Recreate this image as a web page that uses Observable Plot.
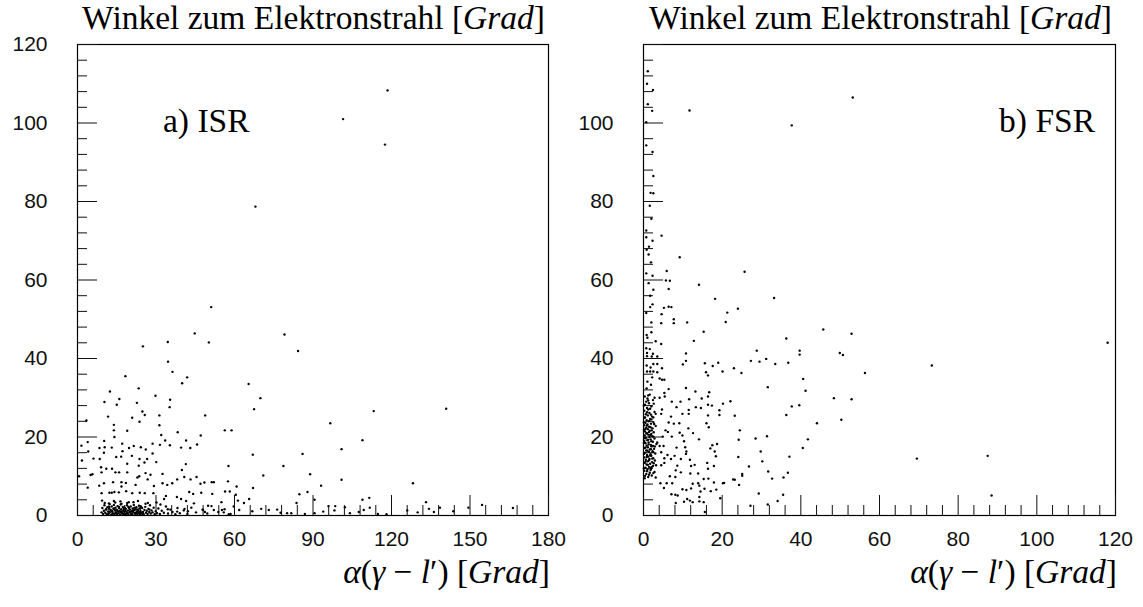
<!DOCTYPE html>
<html><head><meta charset="utf-8">
<script src="https://cdn.jsdelivr.net/npm/d3@7"></script>
<script src="https://cdn.jsdelivr.net/npm/@observablehq/plot@0.6"></script>
<style>
body{margin:0;background:#fff;width:1143px;height:607px;position:relative;overflow:hidden;}
#left{position:absolute;left:0;top:0}
#right{position:absolute;left:571px;top:0}
.lbl{position:absolute;font-family:"Liberation Serif",serif;font-size:33.5px;white-space:nowrap;color:#000;line-height:1}
</style></head><body>
<div id="left"></div><div id="right"></div>
<div class="lbl" style="right:598px;top:1px">Winkel zum Elektronstrahl [<i>Grad</i>]</div>
<div class="lbl" style="right:31px;top:1px">Winkel zum Elektronstrahl [<i>Grad</i>]</div>
<div class="lbl" style="left:163px;top:104px">a) ISR</div>
<div class="lbl" style="right:48px;top:104px">b) FSR</div>
<div class="lbl" style="right:593px;top:555px"><i>α</i>(<i>γ</i> − <i>l</i>′) [<i>Grad</i>]</div>
<div class="lbl" style="right:26px;top:555px"><i>α</i>(<i>γ</i> − <i>l</i>′) [<i>Grad</i>]</div>
<script>
// ---- tick values ----
const isrXMajor = [0, 30, 60, 90, 120, 150, 180];
const isrXMinor = [6,12,18,24,36,42,48,54,66,72,78,84,96,102,108,114,126,132,138,144,156,162,168,174];
const fsrXMajor = [0, 20, 40, 60, 80, 100, 120];
const fsrXMinor = [4,8,12,16,24,28,32,36,44,48,52,56,64,68,72,76,84,88,92,96,104,108,112,116];
const yMajor = [0, 20, 40, 60, 80, 100, 120];
const yMinor = [4,8,12,16,24,28,32,36,44,48,52,56,64,68,72,76,84,88,92,96,104,108,112,116];
const isrYLabels = [0, 20, 40, 60, 80, 100, 120];
const fsrYLabels = [0, 20, 40, 60, 80, 100];

// ---- a) ISR: [alpha(gamma-l'), angle to electron beam] ----
const isrPoints = [
[101.5,101],[118.5,108.3],[117.5,94.5],[68,78.7],[51.1,53.1],
[25,43.1],[34.5,44.2],[44.8,46.4],[50.2,44.1],[79.1,46.1],[84.3,41.9],
[34.6,39.2],[36.3,36.6],[41.9,35.2],[40,33.7],[18.3,35.5],[12.4,31.6],[10.3,28.9],[16,29.7],[15,28.2],
[23.4,32.4],[22.7,28.7],[24.8,26.5],[25.7,25.6],[20.9,24.9],[23.7,23.9],[11.7,25.2],[3.4,24.2],
[29.8,30.5],[35.4,29.5],[35.2,27.6],[31.3,25.5],[13.9,23.1],[13.9,21.7],[14.1,20],[19,21.6],
[48.8,25.5],[56.3,21.7],[58.9,21.7],[65.4,33.5],[69.9,29.9],[67.5,27.1],[38.3,21.2],[32,20.5],
[33.5,19.1],[41.5,19.1],[47.1,20.4],[45.7,18.1],[43.1,17.2],[39.6,17.3],[35.3,17.9],[31.3,23],
[31.5,18],[28.7,18.3],[28.7,15.8],[26.1,16.8],[24.2,17.4],[21.5,17.7],[19.7,17.2],[17.1,18.3],
[20.8,15.2],[17.2,16.4],[16.7,15],[14.8,14.9],[13.1,17.3],[10.4,17.4],[10.1,16],[10.2,19],
[8.4,17.2],[6.1,14.5],[4.1,16.3],[3.9,18.7],[1.5,17.8],[1.7,14],[3.9,7.1],[0.6,10],
[8.5,14.4],[9,12.3],[9.2,11],[5,10.3],[5.7,10.5],[11,11.9],[13.2,11.9],[14.5,11],[15.9,11],
[19,11],[19,13.2],[23.4,12.7],[23.7,14.4],[25.6,13.5],[26.6,14.4],[30.1,13.6],[32.5,10.6],
[26,10.8],[27.9,10.4],[23.6,10],[22.9,9.7],[26.8,9.2],[22.2,7.8],[18.5,8.3],[16.8,8.5],[16.8,7.4],
[13.6,8.5],[10.1,8.2],[8.3,7.6],[14.1,6],[15.8,5.9],[13.1,5.8],[12.2,5.8],[9.2,5.7],
[18.6,6.2],[20.9,5.7],[23.8,5.8],[25.7,5.7],[29,5.7],[29.2,7.5],[32.5,8.2],[34.3,7.8],[36.2,8.2],
[33.8,5],[33.1,4.2],[38,4.7],[39.6,4.2],[41.5,3.7],[42.7,6],[44.2,5.5],[38.1,9.2],[40.8,9.8],
[41.4,13.1],[39.9,11.6],[43.2,9.2],[45.5,9.8],[47,8.1],[48.5,8.4],[51.5,5.5],[51.3,8.5],[52.1,8.5],
[47.3,5.8],[44.5,3.1],[49.9,2.5],[52.1,1.4],[55,3.4],[56.4,6.1],[57.5,8.7],[57.7,12.6],[58.2,6.1],
[60.5,5.3],[60.8,7.4],[61.3,3.8],[63.6,3.2],[61.8,1.4],[65.6,4.2],[67.1,7],[67,15.5],[71,10.2],
[66.8,1.1],[70.2,1.7],[73.1,1.4],[76.3,1.5],[77.6,0.7],[78.7,12.6],[80.1,0.6],[81.7,0.6],
[83.7,3.2],[84.8,5.4],[86,15.7],[87.9,6],[88.9,10.5],[90.6,4],[90.6,0.6],[86.9,0.4],[93.1,7.6],
[93.9,1],[96.6,23.5],[95.9,2.4],[98.5,2.4],[98.2,1.3],[100.9,9.1],[100.9,16.9],[102.2,2.1],
[104.1,0.6],[107.5,0.9],[108.9,19.2],[108.9,4],[109.4,1.4],[111.5,4.5],[111.7,2],[113.2,26.6],
[114.8,0.4],[118.1,0.3],[126,1.3],[128.2,8.2],[130,0.8],[133.2,3.4],[134.3,1.7],[136.2,0.9],
[138.5,2],[140.9,27.2],[143.6,1.1],[149.4,2],[154.6,2.7],[166.4,1.9],
[9.4,3.8],[13.9,3.7],[16.4,3.6],[19.6,3.4],[23.1,3.7],[26.9,3.2],[30.2,3.3],[31.7,2.8],[34.5,1.6],
[38.1,1],[40.9,1.7],[42.2,1.1],[48,1.4],[48.7,0.9],[55.2,1.4],[55.9,0.8],[57.8,0.3],[59.7,2.3],
[9.2,0.8],[9.5,1.9],[9.8,0.4],[10.1,1.2],[10.3,2.6],[10.6,0.7],[10.9,1.6],[11.2,0.3],[11.4,2.1],
[11.7,1.0],[11.9,0.5],[12.1,1.8],[12.3,2.9],[12.5,0.9],[12.7,1.4],[12.9,0.2],[13.1,2.3],[13.3,1.1],
[13.5,0.6],[13.7,1.7],[13.9,2.7],[14.1,0.4],[14.3,1.3],[14.5,2.0],[14.7,0.8],[14.9,1.5],[15.1,0.3],
[15.3,2.4],[15.5,1.0],[15.7,0.6],[15.9,1.9],[16.1,1.2],[16.3,0.2],[16.5,2.8],[16.7,1.6],[16.9,0.7],
[17.1,1.1],[17.3,2.2],[17.5,0.4],[17.7,1.4],[17.9,0.9],[18.1,2.0],[18.3,0.3],[18.5,1.7],[18.7,1.0],
[18.9,2.6],[19.1,0.6],[19.3,1.3],[19.5,0.2],[19.7,1.9],[19.9,0.8],[20.1,1.5],[20.3,2.3],[20.5,0.5],
[20.7,1.1],[20.9,0.3],[21.1,1.8],[21.3,0.9],[21.5,2.7],[21.7,1.4],[21.9,0.6],[22.1,0.2],[22.3,1.6],
[22.5,2.1],[22.7,1.0],[22.9,0.4],[23.1,1.3],[23.3,0.7],[23.5,2.5],[23.7,1.8],[23.9,0.3],[24.1,1.1],
[24.4,0.6],[24.7,1.9],[25.0,0.9],[25.3,0.3],[25.6,1.4],[25.9,2.2],[26.2,0.7],[26.5,1.2],[26.8,0.4],
[27.1,1.7],[27.4,0.9],[27.7,2.6],[28.0,0.5],[28.3,1.3],[28.7,0.8],[29.1,2.0],[29.5,0.3],[29.9,1.1],
[30.4,0.6],[30.9,1.8],[31.5,0.4],[32.2,1.2],[33.0,0.7],[33.8,2.3],[34.6,0.5],[35.5,1.5],[36.3,0.9],
[37.4,0.3],[38.2,1.9],[39.1,0.6],[40.6,1.3],[42.0,0.4],[43.5,2.0],[45.3,0.8],[47.8,1.5],[49.6,0.5],
[51.2,2.4],[53.8,0.9],[56.2,1.6],[58.5,0.4],
[11.0,1.5],[11.6,0.2],[12.2,2.2],[12.8,1.1],[13.4,0.4],[14.0,1.8],[14.6,0.7],[15.2,1.3],[15.8,2.2],
[16.4,0.9],[17.0,0.5],[17.6,1.9],[18.2,1.2],[18.8,0.5],[19.4,2.2],[20.0,1.0],[20.6,0.2],[21.2,1.3],
[21.8,2.0],[22.4,0.7],[23.0,1.5],[23.6,0.9],[24.2,2.3],[24.8,0.4],[12.0,3.1],[14.4,3.3],[16.8,3.0],
[19.0,3.2],[21.4,3.4],[26.0,3.0],[10.4,3.2],[27.5,1.5]
];

// ---- b) FSR ----
const fsrPoints = [
[1.1,113.2],[0.9,110],[2.4,108.4],[1.1,104.8],[2.2,103.1],[0.7,100.2],[11.7,103.2],[0.7,94.3],
[2.3,92.6],[2.5,86.5],[1.8,82.2],[2.5,82.1],[1.6,78.9],[2,75.6],[0.7,72.6],[0.7,70.9],[4.6,71.3],
[2.3,70],[1.4,68.5],[0.8,67.7],[1.3,66.5],[9.2,65.8],[1.9,64.5],[0.7,61.7],[2.3,61.1],[5.9,62.3],
[25.7,62.1],[1.3,59.2],[6.7,59.8],[5.7,59.9],[14.1,58.8],[2.5,57.5],[6.4,57.7],[1.7,56],[18.2,55.2],
[33.2,55.4],[2.3,53.8],[1.7,53.1],[5.2,52.9],[6.4,53.2],[7.1,53.1],[24,52.7],[21.3,51.7],[0.7,51.6],
[4.6,51.3],[7.7,50],[53.2,106.5],[37.7,99.4],
[7.7,49],[11.1,49.2],[2,49.2],[4.5,49],[20.9,49.3],[45.7,47.4],[52.9,46.3],[15.3,46.8],[0.8,46],
[1,45.3],[2,46.7],[3.1,44.4],[4.5,43.7],[12.8,44.5],[36.3,45.1],[28.8,42],[39.7,42],[39.7,41],
[49.9,41.4],[50.7,40.9],[0.7,42.6],[1.6,42.4],[2.4,41.2],[0.9,41.4],[0.9,40.6],[2.1,40.5],[3.5,40.5],
[10.8,41.3],[10.8,39.4],[10,38.5],[15.6,38.8],[17.6,38.1],[19,38.9],[20.1,36.7],[23,37.5],[24.9,36.3],
[27.3,39.4],[29.5,39.2],[31.2,39.9],[33.5,38.6],[36.8,38.9],[56.3,36.3],[0.8,38.2],[1.8,37.7],
[2.5,38.6],[3.5,38.6],[0.9,36.7],[1.7,36.7],[2.5,36.7],[3.5,36.5],[4.7,37.5],[15.9,36.5],[16.4,35.7],
[2.2,35.2],[4.1,34.9],[4.7,34.6],[5.3,34.6],[1,34.1],[1.9,33.3],[0.8,32.4],[40.6,34.8],[41.2,31.8],
[31.6,32.7],[10.8,32.5],[6.4,32.2],[13.2,31.6],[16.7,31.4],[16.4,30.3],[5.3,31.2],[5.4,30.3],[4.1,30],
[2.8,30],[1.2,30.6],[7.2,29],[9.4,29],[11.6,29.6],[14.8,29.8],[8.4,27.6],[13.3,27.6],[14.6,27.4],
[16.4,28.2],[17.4,28],[20.2,28.5],[22.1,29.1],[48.4,29.9],[52.9,29.6],[39.6,28.1],[37.7,27.8],
[36.3,25.6],[23.2,25.4],[19.3,26.8],[19.3,25.6],[16.4,25.5],[11.5,26.9],[11.5,25.9],[9.9,25.9],
[7,25.2],[4.7,27],[4.5,25.9],[3.1,25.9],[2.5,25],[50.3,24.4],[44.1,23.5],[24.5,21.7],[24.2,19.3],
[28.5,19.6],[31.4,20.2],[41.8,19.4],[40.5,17.2],[29.8,16.3],[30.2,13.8],[24.1,14.9],[37.1,15],
[26.8,12.5],[31.7,11.2],[32.7,9.4],[35.6,9.7],[36.7,10.9],[25.1,10.6],[25.1,10.1],[22.8,9.2],
[24.3,7.8],[20.2,8.2],[17.9,8.4],[16.5,9.4],[15.3,9.3],[13.9,8.2],[14.2,7.6],[15.5,6.8],[17.1,6.2],
[18.5,6.6],[14.5,6.1],[14.2,4.7],[14.2,3.6],[15.3,3.4],[15.6,0.9],[19.5,4.4],[29.3,5.6],[35.5,5.3],
[34.1,3.7],[31.6,2.8],[27.2,2.5],[8.2,3.2],[10.3,3.5],[11.1,4.2],[11.8,3.8],[12.5,3.4],[7.1,5.4],
[8.1,5.3],[8.7,5.1],[9.9,6.7],[10.9,6.5],[12.1,6.9],[12.5,8.1],[5.2,7],[5.9,8.2],[4.3,8.2],[3.1,9.7],
[7.3,8.2],[8.1,9.8],[9.5,11],[8.6,12.7],[8.2,11.5],[6.7,10],[11.8,14.2],[13,12.9],[12.1,12.6],
[11.9,10.7],[13.9,10.7],[9.5,14.4],[10.8,15.7],[10.9,16.3],[10.6,17.4],[8.4,17.3],[7.9,15.2],
[6.1,15.4],[5.3,14.6],[7,14.4],[4.5,12.8],[5.3,13.4],[4.5,16.1],[5.1,17.7],[4.1,17.7],[2.9,17.6],
[3.5,18.6],[4.9,20.1],[5.6,21.7],[6.2,21.3],[7.2,20.1],[9.1,23.5],[7.7,23.4],[6.4,23.7],[11.4,22.2],
[9.2,21.1],[9.9,20.4],[10.3,18.9],[12.6,21],[14.1,19.4],[17.5,17.9],[18.7,18.2],[18.1,16.3],
[18.4,15.1],[16.2,13.4],[16.4,11.9],[17.9,12.6],[16,23.5],[16.6,22.5],[17,17.1],[23.2,9.1],[20.5,8.3],
[73.3,38.2],[69.5,14.5],[87.5,15.2],[88.5,5.1],[118,44],
[0.3,9.5],[1.2,9.8],[2.1,10.2],[0.7,10.6],[1.6,10.9],[2.8,11.1],[0.2,11.4],[1.0,11.7],[1.9,11.9],
[0.5,12.2],[1.4,12.4],[2.4,12.6],[3.2,12.8],[0.8,13.0],[1.7,13.2],[0.3,13.4],[2.2,13.6],[1.1,13.8],
[2.9,14.0],[0.6,14.2],[1.5,14.4],[2.5,14.6],[0.2,14.8],[1.2,15.0],[2.0,15.2],[0.9,15.4],[1.8,15.6],
[3.0,15.8],[0.4,16.0],[1.4,16.2],[2.3,16.4],[0.7,16.6],[1.6,16.8],[2.7,17.0],[0.3,17.2],[1.1,17.4],
[2.0,17.6],[0.8,17.8],[1.9,18.0],[3.3,18.2],[0.5,18.4],[1.3,18.6],[2.4,18.8],[0.2,19.0],[1.0,19.2],
[1.8,19.4],[2.8,19.6],[0.6,19.8],[1.5,20.0],[2.2,20.2],[0.3,20.4],[1.2,20.6],[2.0,20.8],[0.9,21.0],
[2.6,21.2],[0.4,21.4],[1.6,21.6],[0.1,21.8],[1.1,22.0],[2.3,22.2],[0.7,22.4],[1.4,22.6],[3.1,22.8],
[0.2,23.0],[1.0,23.2],[1.9,23.4],[0.5,23.6],[2.5,23.8],[1.3,24.0],[0.8,24.3],[1.7,24.6],[0.3,24.9],
[2.2,25.2],[1.1,25.5],[0.6,25.8],[1.5,26.1],[2.8,26.4],[0.2,26.7],[1.2,27.0],[0.9,27.4],[2.0,27.8],
[0.4,28.2],[1.4,28.6],[0.7,29.0],[2.4,29.4],[1.0,29.8],[0.3,30.3],[1.6,30.8],
[0.4,10.1],[1.4,10.4],[2.5,10.8],[0.9,11.3],[1.8,11.6],[0.1,12.0],[2.0,12.3],[1.1,12.9],[2.6,13.3],
[0.5,13.7],[1.4,14.1],[2.2,14.5],[0.8,14.9],[1.7,15.3],[0.1,15.7],[2.5,16.1],[1.0,16.5],[1.9,16.9],
[0.5,17.3],[2.4,17.7],[1.3,18.1],[0.1,18.5],[2.0,18.9],[1.1,19.3],[0.4,19.7],[2.5,20.1],[1.7,20.5],
[0.7,20.9],[1.4,21.3],[2.1,21.7],[0.5,22.1],[1.8,22.5],[0.9,22.9],[2.7,23.3],[0.1,23.7],[1.5,24.1],
[2.0,24.5],[0.4,25.0],[1.9,25.7],[0.9,26.3],[1.7,27.2],[0.1,28.0],[2.6,28.5],[1.2,29.3]
];

function panel(points, xDomain, xMajor, xMinor, yLabels, width, marginLeft, marginRight) {
  return Plot.plot({
    width, height: 607,
    marginLeft, marginRight, marginTop: 44, marginBottom: 92,
    x: {domain: xDomain}, y: {domain: [0, 120]},
    style: {fontFamily: "'Liberation Sans', sans-serif", fontSize: "21px", color: "#111", background: "white", overflow: "visible"},
    marks: [
      Plot.frame({stroke: "#000", strokeWidth: 1.2}),
      Plot.axisX(xMajor, {tickSize: -20, tickFormat: () => "", label: null}),
      Plot.axisX(xMinor, {tickSize: -10, tickFormat: () => "", label: null}),
      Plot.axisX(xMajor, {tickSize: 0, tickPadding: 16, label: null}),
      Plot.axisY(yMajor, {tickSize: -20, tickFormat: () => "", label: null}),
      Plot.axisY(yMinor, {tickSize: -10, tickFormat: () => "", label: null}),
      Plot.axisY(yLabels, {tickSize: 0, tickPadding: 30, label: null}),
      Plot.dot(points, {x: d => d[0], y: d => d[1], r: 1.2, fill: "black"})
    ]
  });
}

document.getElementById("left").append(panel(isrPoints, [0, 180], isrXMajor, isrXMinor, isrYLabels, 571, 77, 23));
document.getElementById("right").append(panel(fsrPoints, [0, 120], fsrXMajor, fsrXMinor, fsrYLabels, 572, 72, 28));
</script>
</body></html>
